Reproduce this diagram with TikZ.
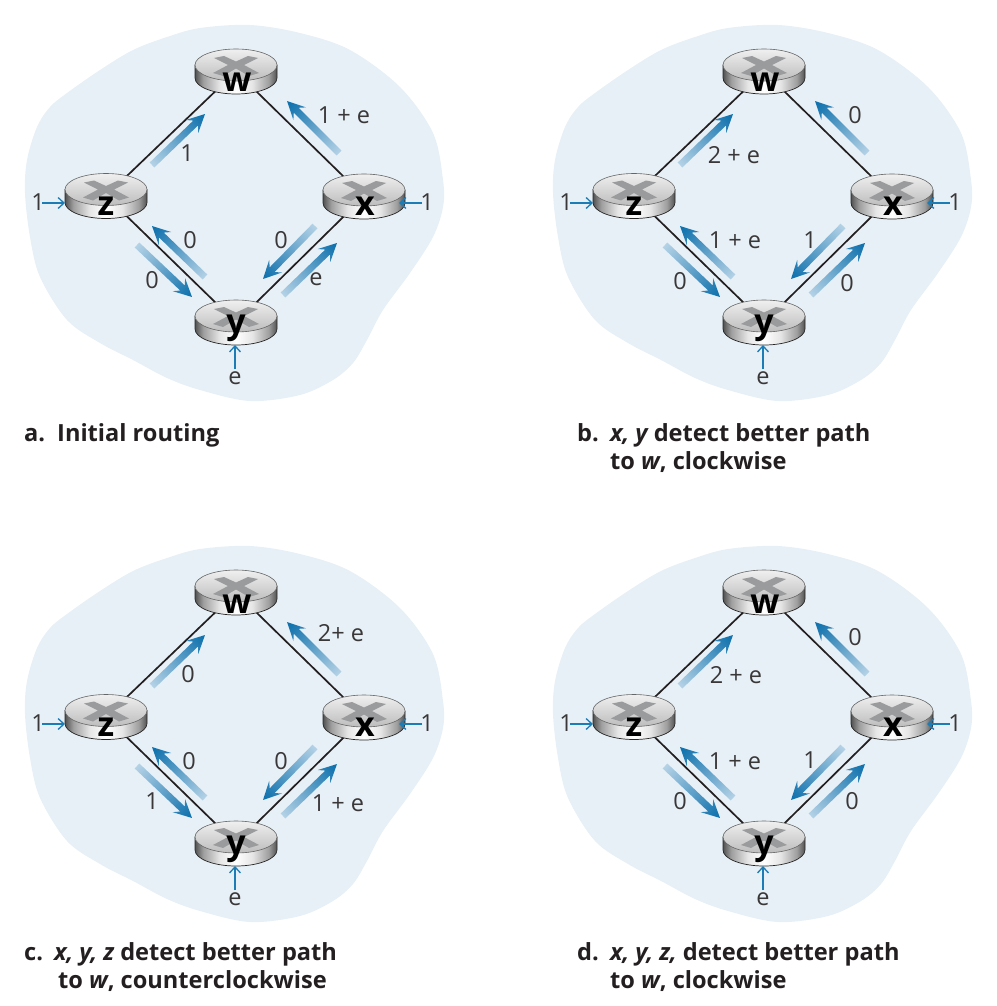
\documentclass[tikz,border=0pt]{standalone}
\usepackage{fontspec}
\setmainfont{Open Sans}
\usetikzlibrary{arrows.meta}
\definecolor{blobc}{HTML}{E7F0F6}
\definecolor{bluedark}{HTML}{0A6EAB}
\definecolor{bluelight}{HTML}{B4D2E6}
\definecolor{bluemid}{HTML}{2A82B8}
\definecolor{thinblue}{HTML}{1C7DB6}
\definecolor{inkc}{HTML}{231F20}
\definecolor{labelc}{HTML}{3A3738}
\definecolor{crossc}{HTML}{9A9B9D}
\pgfdeclarehorizontalshading{routerside}{100bp}{
  color(0bp)=(black!68); color(25bp)=(black!68); color(30bp)=(black!38); color(40bp)=(black!10);
  color(50bp)=(white); color(60bp)=(black!10); color(70bp)=(black!38); color(75bp)=(black!68); color(100bp)=(black!68)}
\newcounter{tn}
\tikzset{
  routernode/.style={inner sep=0pt,minimum width=82pt,minimum height=46pt},
  linkline/.style={draw=inkc,line width=1.7pt},
  numlabel/.style={inner sep=0pt,text=labelc,font=\fontsize{23.5}{28}\selectfont},
  routerlabel/.style={inner sep=0pt,anchor=base,text=black,font=\fontsize{34}{36}\selectfont\bfseries},
  captionlabel/.style={inner sep=0pt,anchor=base west,text=inkc,font=\fontsize{23.6}{28}\selectfont\bfseries},
  inputarrow/.style={draw=thinblue,line width=1.3pt,-{Straight Barb[length=6pt,width=11pt]}},
}
% gradient arrow, given in absolute picture coordinates
\newcommand{\grarrow}[4]{%
  \pgfmathsetmacro{\arang}{atan2(-(#4-#2),#3-#1)}%
  \pgfmathsetmacro{\arlen}{veclen(#3-#1,#4-#2)}%
  \begin{scope}[transform canvas={shift={({#1+\panx},{#2+\pany})},rotate=\arang}]
    \shade[left color=bluelight,middle color=bluemid,right color=bluedark]
      (0,-3.4) -- (\arlen-13,-3.4) -- (\arlen-18,-9) -- (\arlen,0) -- (\arlen-18,9) -- (\arlen-13,3.4) -- (0,3.4) -- cycle;
  \end{scope}}
\newcommand{\panelarrows}[2]{%
  \def\panx{#1}\def\pany{#2}%
  \grarrow{152}{165}{205}{114}
  \grarrow{339}{153}{287}{101}
  \grarrow{205}{277}{152}{226}
  \grarrow{137}{245}{192}{297}
  \grarrow{315}{226}{263}{279}
  \grarrow{283}{295}{337}{243}}
\newcommand{\routerbody}[1]{%
  \begin{scope}[shift={(#1)}]
    \shade[shading=routerside,draw=black!85,line width=.7pt]
      (-41,-6.5) -- (-41,6.5) arc[start angle=180,end angle=360,x radius=41pt,y radius=16pt] -- (41,-6.5) -- cycle;
    \shade[top color=black!6,bottom color=black!26,draw=black!60,line width=.6pt]
      (0,-6.5) ellipse[x radius=41pt,y radius=16pt];
    \fill[crossc] (-22,-13.5) -- (-12,-15.5) -- (0,-10) -- (12,-15.5) -- (22,-13.5) -- (8,-6.5)
      -- (23,1.5) -- (13,4.5) -- (0,-3) -- (-13,4.5) -- (-23,1.5) -- (-8,-6.5) -- cycle;
  \end{scope}}
\newcommand{\lab}[3]{\stepcounter{tn}\node[numlabel] (t\arabic{tn}) at (#1,#2) {#3};}
\newcommand{\capt}[3]{\stepcounter{tn}\node[captionlabel] (t\arabic{tn}) at (#1,#2) {#3};}
% one panel: routers, links, inputs
\newcommand{\panelbase}[1]{%
  \fill[blobc] plot[smooth cycle,tension=.55] coordinates {
    (250,25) (300,33) (350,50) (400,87) (433,133) (443,180) (443,207) (433,237) (410,273) (383,310)
    (367,340) (353,363) (333,380) (300,395) (250,401) (200,390) (167,378) (133,360) (100,343) (67,320)
    (40,277) (30,237) (25,193) (27,160) (37,127) (50,107) (67,93) (100,70) (133,50) (167,37) (200,28)};
  \node[routernode] (#1w) at (236,71.5) {};
  \node[routernode] (#1z) at (106,196) {};
  \node[routernode] (#1x) at (364,196.5) {};
  \node[routernode] (#1y) at (236,322.5) {};
  \draw[linkline] (#1z.center) -- (#1w.center);
  \draw[linkline] (#1w.center) -- (#1x.center);
  \draw[linkline] (#1z.center) -- (#1y.center);
  \draw[linkline] (#1y.center) -- (#1x.center);
  \routerbody{#1w}\routerbody{#1z}\routerbody{#1x}\routerbody{#1y}
  \node[routerlabel] (#1wt) at (237,92) {w};
  \node[routerlabel] (#1zt) at (106,215) {z};
  \node[routerlabel] (#1xt) at (365,215) {x};
  \node[routerlabel] (#1yt) at (236,333) {y};
  \node[numlabel] (#1i1) at (38,202) {1};
  \node[numlabel] (#1i2) at (427,202) {1};
  \node[numlabel] (#1i3) at (235,378) {e};
  \coordinate (#1s1) at (42,203);   \coordinate (#1e1) at (65,203);
  \coordinate (#1s2) at (422,203);  \coordinate (#1e2) at (399,203);
  \coordinate (#1s3) at (235,369);  \coordinate (#1e3) at (235,345);
  \draw[inputarrow] (#1s1) -- (#1e1);
  \draw[inputarrow] (#1s2) -- (#1e2);
  \draw[inputarrow] (#1s3) -- (#1e3);
}
\begin{document}
\begin{tikzpicture}[x=1pt,y=-1pt]
\useasboundingbox (0,0) rectangle (996,1006);
\begin{scope}
  \panelbase{a}
  \lab{187}{153}{1}\lab{344}{115}{1 + e}\lab{190}{240}{0}\lab{152}{280}{0}\lab{281}{240}{0}\lab{316}{279}{e}
  \capt{24}{441}{a.}\capt{57}{441}{Initial routing}
\end{scope}
\begin{scope}[shift={(528,0)}]
  \panelbase{b}
  \lab{206}{155}{2 + e}\lab{327}{115}{0}\lab{207}{240}{1 + e}\lab{152}{281}{0}\lab{282}{240}{1}\lab{319}{283}{0}
  \capt{49}{441}{b.}\capt{82}{441}{\itshape x, y \upshape detect better path}
  \capt{82}{469}{to \itshape w\upshape, clockwise}
\end{scope}
\begin{scope}[shift={(0,521)}]
  \panelbase{c}
  \lab{188}{153}{0}\lab{341}{112}{2+ e}\lab{189}{240}{0}\lab{152}{280}{1}\lab{281}{240}{0}\lab{338}{282}{1 + e}
  \capt{24}{439}{c.}\capt{54}{439}{\itshape x, y, z \upshape detect better path}
  \capt{58}{467}{to \itshape w\upshape, counterclockwise}
\end{scope}
\begin{scope}[shift={(528,521)}]
  \panelbase{d}
  \lab{208}{154}{2 + e}\lab{327}{116}{0}\lab{207}{240}{1 + e}\lab{152}{280}{0}\lab{282}{239}{1}\lab{324}{280}{0}
  \capt{49}{439}{d.}\capt{82}{439}{\itshape x, y, z, \upshape detect better path}
  \capt{82}{467}{to \itshape w\upshape, clockwise}
\end{scope}
\panelarrows{0}{0}
\panelarrows{528}{0}
\panelarrows{0}{521}
\panelarrows{528}{521}
\end{tikzpicture}
\end{document}
